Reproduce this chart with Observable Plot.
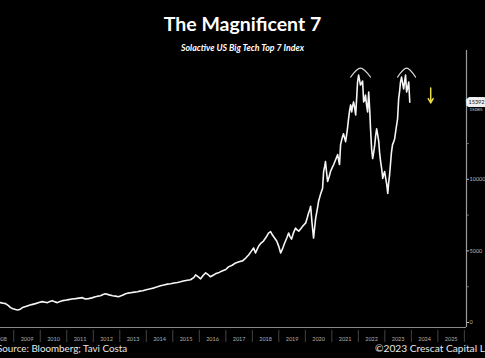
<!DOCTYPE html>
<html><head><meta charset="utf-8">
<script src="https://cdn.jsdelivr.net/npm/d3@7"></script>
<script src="https://cdn.jsdelivr.net/npm/@observablehq/plot@0.6"></script>
<style>
html,body{margin:0;padding:0;background:#000;}
#wrap{position:relative;width:485px;height:358px;overflow:hidden;background:#000;font-family:Lato,"Open Sans",sans-serif;}
#title{position:absolute;top:12px;left:0;width:485px;text-align:center;color:#fff;font-weight:700;font-size:19.5px;line-height:23px;}
#sub{position:absolute;top:43px;left:0;width:485px;text-align:center;color:#fff;font-weight:700;font-style:italic;font-size:8.8px;line-height:10px;}
#chart{position:absolute;top:45px;left:0;}
#src{position:absolute;left:-3px;top:342px;color:#e8e8e8;font-size:9.8px;line-height:13px;white-space:nowrap;}
#copy{position:absolute;left:375px;top:342px;color:#e8e8e8;font-size:10.2px;line-height:13px;white-space:nowrap;}
</style></head>
<body>
<div id="wrap">
<div id="chart"></div>
<div id="title">The Magnificent 7</div>
<div id="sub">Solactive US Big Tech Top 7 Index</div>
<div id="src">Source: Bloomberg; Tavi Costa</div>
<div id="copy">©2023 Crescat Capital LLC</div>
</div>
<script>
// Index level (fractional year, value)
const dates = [2008.50,2008.60,2008.69,2008.80,2008.88,2008.97,2009.07,2009.15,2009.22,2009.33,2009.45,2009.56,2009.68,2009.82,2009.95,2010.08,2010.18,2010.27,2010.36,2010.46,2010.55,2010.65,2010.74,2010.84,2010.95,2011.07,2011.20,2011.33,2011.46,2011.59,2011.70,2011.82,2011.95,2012.08,2012.17,2012.27,2012.37,2012.46,2012.60,2012.73,2012.84,2012.95,2013.10,2013.22,2013.30,2013.41,2013.55,2013.67,2013.76,2013.86,2014.00,2014.16,2014.30,2014.42,2014.54,2014.66,2014.80,2014.92,2015.05,2015.18,2015.29,2015.40,2015.55,2015.67,2015.80,2015.86,2015.95,2016.05,2016.15,2016.24,2016.33,2016.42,2016.52,2016.61,2016.75,2016.88,2017.00,2017.10,2017.24,2017.37,2017.50,2017.63,2017.75,2017.86,2017.95,2018.05,2018.12,2018.24,2018.33,2018.42,2018.52,2018.61,2018.69,2018.76,2018.84,2018.92,2019.00,2019.07,2019.15,2019.22,2019.30,2019.37,2019.42,2019.48,2019.56,2019.63,2019.70,2019.75,2019.83,2019.90,2019.96,2020.01,2020.07,2020.12,2020.17,2020.20,2020.25,2020.31,2020.35,2020.39,2020.45,2020.50,2020.58,2020.65,2020.69,2020.73,2020.76,2020.80,2020.84,2020.90,2020.95,2021.01,2021.07,2021.15,2021.22,2021.26,2021.29,2021.33,2021.39,2021.44,2021.48,2021.52,2021.58,2021.63,2021.67,2021.71,2021.75,2021.78,2021.82,2021.86,2021.90,2021.94,2021.97,2022.01,2022.05,2022.08,2022.12,2022.16,2022.20,2022.24,2022.27,2022.31,2022.35,2022.39,2022.43,2022.46,2022.50,2022.54,2022.58,2022.62,2022.65,2022.69,2022.73,2022.77,2022.80,2022.84,2022.88,2022.92,2022.95,2022.99,2023.03,2023.07,2023.11,2023.14,2023.18,2023.22,2023.25,2023.29,2023.33,2023.37,2023.42,2023.48,2023.52,2023.56,2023.59,2023.63,2023.67,2023.71,2023.75,2023.78,2023.82,2023.86,2023.90,2023.94,2023.97,2024.01];
const values = [1388,1350,1319,1180,1041,960,902,870,902,1041,1110,1180,1250,1319,1390,1457,1420,1388,1470,1527,1440,1388,1460,1527,1560,1596,1640,1666,1700,1735,1640,1666,1720,1804,1840,1874,1950,2013,1930,1874,1840,1804,1900,2013,2050,2082,2120,2151,2190,2221,2290,2360,2420,2490,2568,2620,2680,2707,2760,2800,2845,2900,2950,2984,3150,3331,3200,3054,3300,3470,3350,3192,3300,3401,3500,3609,3700,3886,4000,4164,4250,4303,4500,4719,4950,5205,4858,5344,5550,5691,5950,6246,6350,6107,5900,5691,5300,4858,5200,5552,5900,6246,6000,5830,6300,6593,6450,6385,6550,6732,6850,6940,7300,7634,7900,8120,7000,5899,6600,7287,7900,8467,9000,9369,10549,10900,11243,10500,9855,10200,10549,10800,11035,11400,11729,11300,11035,12423,12900,13186,12900,12631,13400,14227,14800,15199,14713,15100,15407,15000,14505,15800,16795,17281,16900,16587,16700,16864,15407,15600,15893,15200,14713,16101,14800,13533,12145,11451,11900,12423,13000,13533,13100,12631,11900,11243,10757,10063,10300,10549,10100,9647,9022,9700,10341,11243,11900,12423,12600,12839,13500,14227,15615,16200,16795,17142,16700,16309,16900,17281,16101,16400,16795,15392];
// tick labels
const yearLabels = ["2008","2009","2010","2011","2012","2013","2014","2015","2016","2017","2018","2019","2020","2021","2022","2023","2024","2025"];
const yTicks = [0,5000,10000];
const yMinor = [2500,7500,12500];
// annotations (peak arcs and arrow, in data units)
const arcDates1 = [2021.71,2022.08,2022.46];
const arcDates2 = [2023.48,2023.82,2024.16];
const arcValues = [17142,17766,17142];
const arrowDate = 2024.73;
const arrowFrom = 16378, arrowTo = 15337;
const lastValue = 15392;
const secondLabel = "15085";

const series = dates.map((d,i)=>({date:d, value:values[i]}));
const arcs = [
  ...arcDates1.map((d,i)=>({date:d,value:arcValues[i],k:"a"})),
  ...arcDates2.map((d,i)=>({date:d,value:arcValues[i],k:"b"}))
];
const xMax = 2026.08;
const yearStarts = yearLabels.map(y=>+y).concat([2026]);
const yearMids = yearLabels.map(y=>({x:+y+0.5,t:y}));

const chart = Plot.plot({
  width:485, height:300,
  marginLeft:0, marginRight:19, marginTop:5, marginBottom:23,
  style:{background:"transparent", color:"#aaa", fontFamily:"Lato, sans-serif"},
  x:{type:"linear", domain:[2008.5,xMax], axis:null},
  y:{type:"linear", domain:[0,19000], axis:null},
  marks:[
    Plot.ruleY([0],{dy:5, stroke:"#8a8a8a", strokeWidth:1}),
    Plot.ruleX([xMax],{stroke:"#9a9a9a", strokeWidth:1.2, insetBottom:-5}),
    Plot.ruleX(yearStarts,{x:d=>d, y1:0, y2:0, dy:14, insetTop:-6, insetBottom:-6, stroke:"#555", strokeWidth:0.8}),
    Plot.text(yearMids,{x:"x", y:()=>0, text:"t", dy:17, fontSize:5.5, fill:"#b0b0b0"}),
    Plot.axisY({anchor:"right", ticks:yTicks, tickSize:2, tickPadding:1, tickFormat:d=>String(d), fontSize:5.5, color:"#bbb"}),
    Plot.axisY({anchor:"right", ticks:yMinor, tickSize:2, tickFormat:()=>"", color:"#666"}),
    Plot.line(series,{x:"date", y:"value", stroke:"#f6f6f6", strokeWidth:1.6}),
    Plot.line(arcs,{x:"date", y:"value", z:"k", curve:"natural", stroke:"#dcdcdc", strokeWidth:1.1}),
    Plot.arrow([{d:arrowDate,a:arrowFrom,b:arrowTo}],{x1:"d",x2:"d",y1:"a",y2:"b", stroke:"#e8d84a", strokeWidth:1.5, headLength:5}),
    Plot.text([lastValue],{x:()=>xMax, y:d=>d, text:d=>String(d), dx:2, textAnchor:"start", fontSize:5.5, fill:"#111", stroke:"#f0f0f0", strokeWidth:6, paintOrder:"stroke"}),
    Plot.text([lastValue],{x:()=>xMax, y:d=>d, text:()=>secondLabel, dx:3, dy:7, textAnchor:"start", fontSize:4.5, fill:"#ddd"})
  ]
});
document.getElementById("chart").appendChild(chart);
</script>
</body></html>
